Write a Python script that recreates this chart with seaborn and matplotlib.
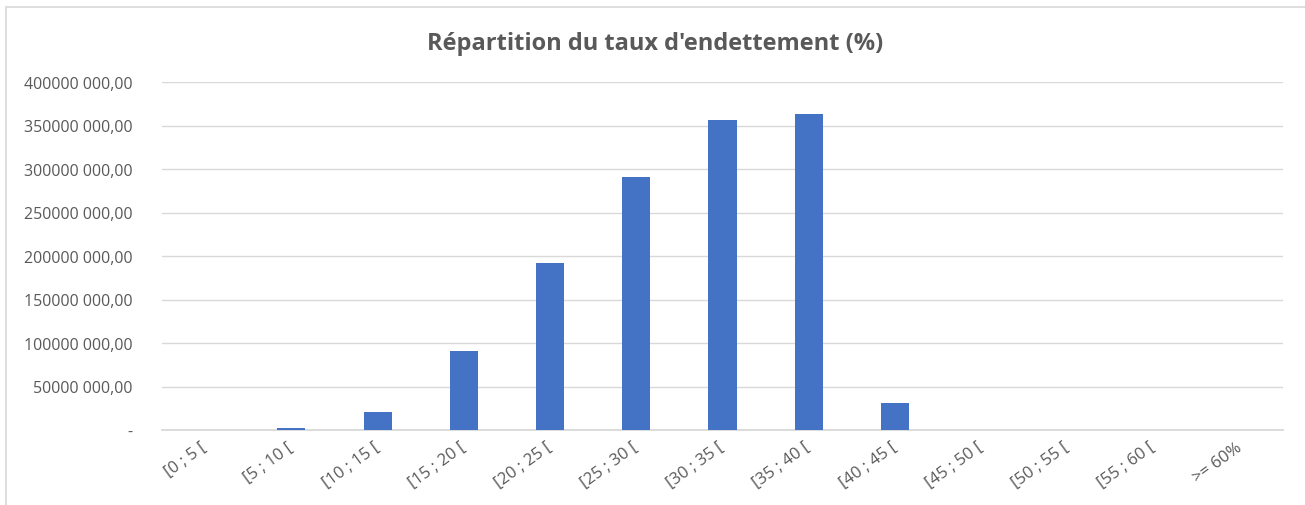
import matplotlib
matplotlib.use("Agg")
import matplotlib.pyplot as plt
import seaborn as sns
import pandas as pd
from matplotlib.patches import Rectangle
from matplotlib.ticker import FixedLocator, FuncFormatter

categories = ["[0 ; 5 [", "[5 ; 10 [", "[10 ; 15 [", "[15 ; 20 [", "[20 ; 25 [",
              "[25 ; 30 [", "[30 ; 35 [", "[35 ; 40 [", "[40 ; 45 [", "[45 ; 50 [",
              "[50 ; 55 [", "[55 ; 60 [", ">= 60%"]
values = [0, 2300000, 20700000, 91000000, 192000000, 291000000, 356000000,
          363000000, 31000000, 500000, 0, 0, 0]
yticks = [0, 50000000, 100000000, 150000000, 200000000, 250000000,
          300000000, 350000000, 400000000]
title = "Répartition du taux d'endettement (%)"

sns.set_theme(style="white")
plt.rcParams['font.family'] = ['Open Sans', 'DejaVu Sans']

text_color = "#595959"
grid_color = "#D9D9D9"
bar_color = "#4472C4"

df = pd.DataFrame({"cat": categories, "val": values})

fig = plt.figure(figsize=(13.05, 5.06), dpi=100)
ax = fig.add_axes([162/1305, 1-431/506, (1283-162)/1305, (431-83)/506])

sns.barplot(data=df, x="cat", y="val", ax=ax, color=bar_color, width=0.325,
            saturation=1, edgecolor="none", zorder=3)

ax.set_ylim(0, 400000000)
ax.set_xlim(-0.5, len(categories) - 0.5)
ax.yaxis.set_major_locator(FixedLocator(yticks))

def fmt(v, pos):
    if v == 0:
        return "-"
    v = int(round(v))
    return f"{v // 1000} {v % 1000:03d},00"

ax.yaxis.set_major_formatter(FuncFormatter(fmt))
ax.grid(axis="y", color=grid_color, linewidth=1, zorder=0)
ax.grid(axis="x", visible=False)
for s in ["left", "right", "top"]:
    ax.spines[s].set_visible(False)
ax.spines["bottom"].set_color(grid_color)
ax.spines["bottom"].set_linewidth(1.3)
ax.set_xlabel("")
ax.set_ylabel("")
ax.tick_params(axis="y", length=0, pad=21, labelsize=11.5, labelcolor=text_color)
ax.tick_params(axis="x", length=0, pad=11, labelsize=12, labelcolor=text_color)
for lab in ax.get_xticklabels():
    lab.set_rotation(36)
    lab.set_ha("right")
    lab.set_va("center")
    lab.set_rotation_mode("anchor")

fig.text(0.502, 1 - 44/506, title, ha="center", va="center", fontsize=17,
         fontweight="bold", color=text_color)

fig.patches.append(Rectangle((6/1305, -0.01), 1.02, 1 - 8/506 + 0.01,
                             transform=fig.transFigure, fill=False,
                             edgecolor="#D9D9D9", linewidth=1.2, zorder=0))

fig.savefig("out.png", dpi=100, facecolor="white")
